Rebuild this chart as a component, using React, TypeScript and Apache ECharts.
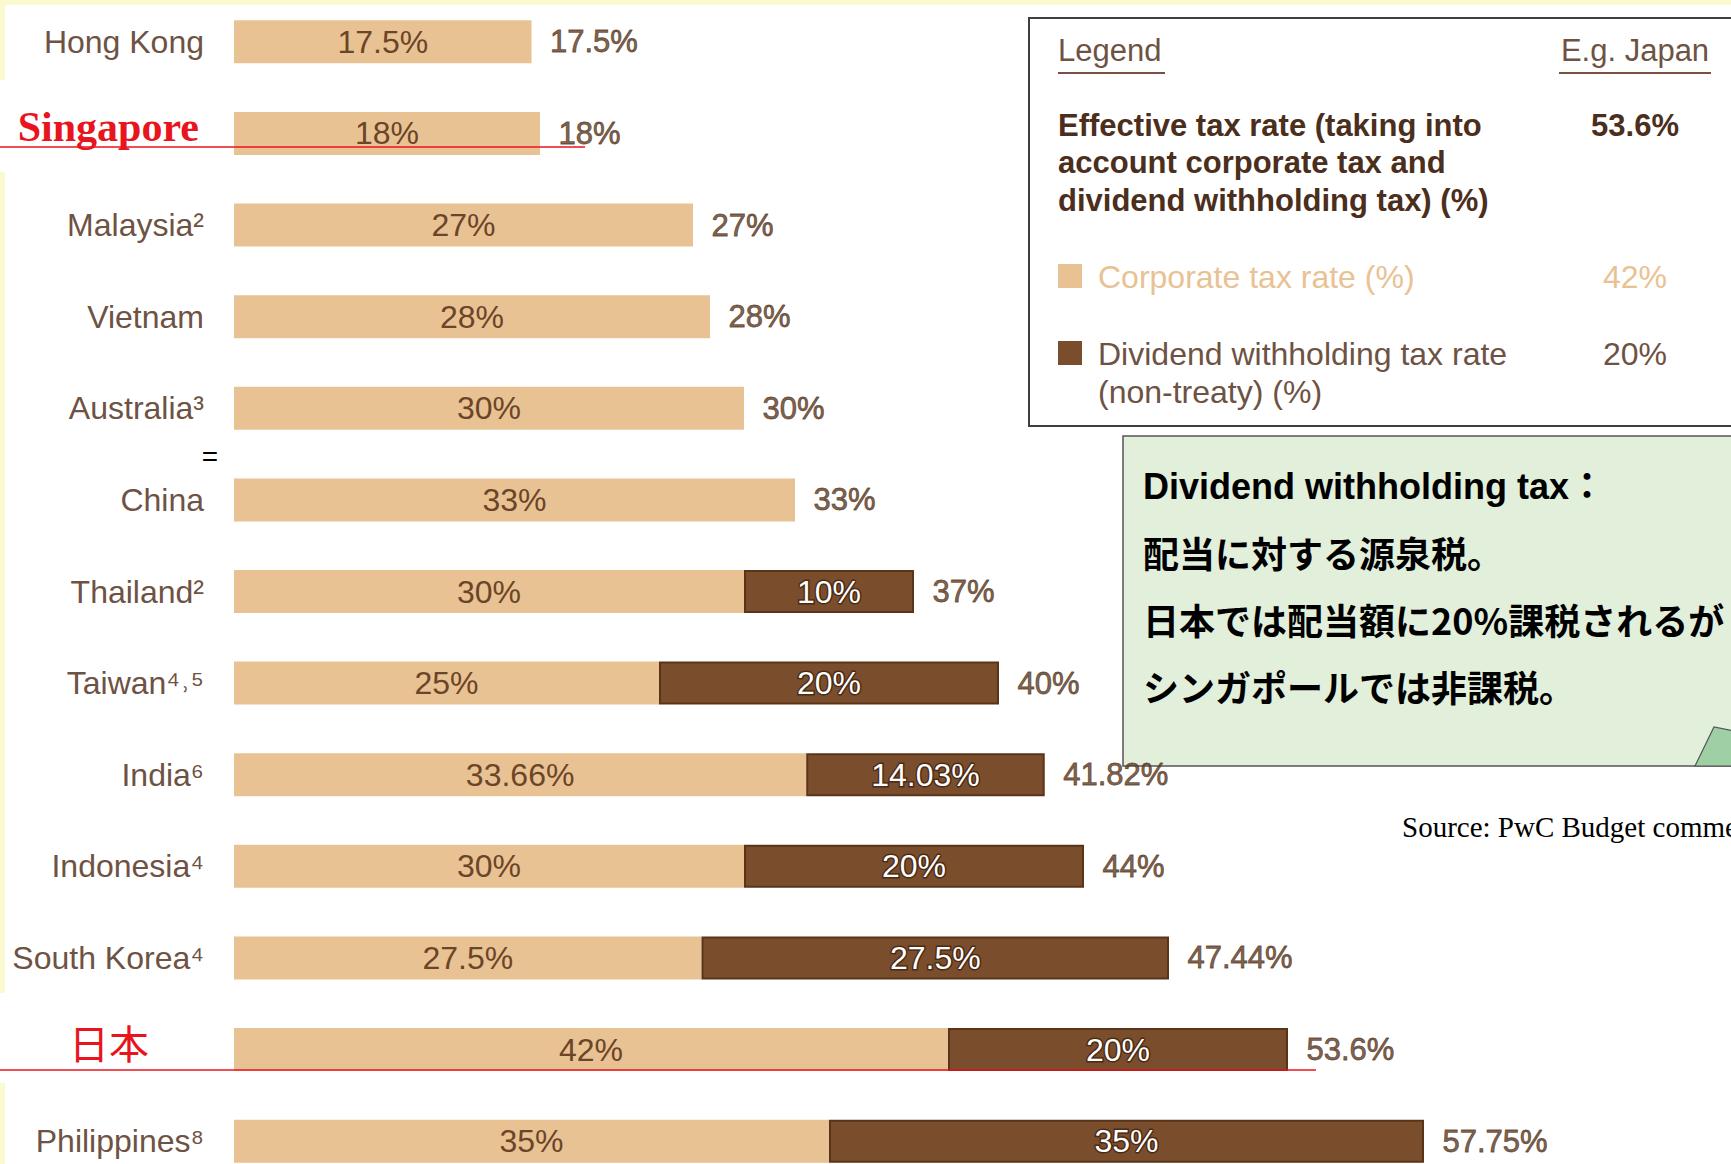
import React, { useEffect, useRef } from "react";
import * as echarts from "echarts";

// ---- data ----
const categories = [
  "Hong Kong",
  "Singapore",
  "Malaysia²",
  "Vietnam",
  "Australia³",
  "China",
  "Thailand²",
  "Taiwan⁴˒⁵",
  "India⁶",
  "Indonesia⁴",
  "South Korea⁴",
  "日本",
  "Philippines⁸",
];
const corporateRate = [17.5, 18, 27, 28, 30, 33, 30, 25, 33.66, 30, 27.5, 42, 35];
const dividendRate = [0, 0, 0, 0, 0, 0, 10, 20, 14.03, 20, 27.5, 20, 35];
const effectiveRate = [17.5, 18, 27, 28, 30, 33, 37, 40, 41.82, 44, 47.44, 53.6, 57.75];

const legendRows = ["Effective tax rate (taking into", "account corporate tax and", "dividend withholding tax) (%)"];
const japanExample = { effective: 53.6, corporate: 42, dividend: 20 };
const calloutLines = [
  "Dividend withholding tax：",
  "配当に対する源泉税。",
  "日本では配当額に20%課税されるが",
  "シンガポールでは非課税。",
];
const sourceText = "Source: PwC Budget commentaries";

// ---- styles ----
const TAN = "#E9C294";
const BROWN = "#7A4E2C";
const SANS = "'Liberation Sans', Arial, sans-serif";
const CJK = "'Noto Sans CJK JP', 'Liberation Sans', sans-serif";
const LABEL_GREY = "#6E5243";

export default function App() {
  const ref = useRef<HTMLDivElement>(null);

  useEffect(() => {
    if (!ref.current) return;
    const chart = echarts.init(ref.current, undefined, { renderer: "svg" });

    const totals = corporateRate.map((c, i) => c + dividendRate[i]);

    const txt = (text: string, x: number, y: number, o: any = {}) => ({
      type: "text",
      z: o.z ?? 20,
      style: {
        text,
        x,
        y,
        fill: o.fill ?? LABEL_GREY,
        fontSize: o.fontSize ?? 32,
        fontFamily: o.fontFamily ?? SANS,
        fontWeight: o.fontWeight ?? "normal",
        align: o.align ?? "left",
        verticalAlign: "middle",
      },
    });

    const option: any = {
      animation: false,
      backgroundColor: "#FBF9CF",
      grid: {
        left: 234,
        top: -4,
        width: 1360,
        height: 1191,
        containLabel: false,
        outerBoundsMode: "none",
      },
      xAxis: { type: "value", min: 0, max: 80, show: false },
      yAxis: {
        type: "category",
        inverse: true,
        data: categories,
        axisLine: { show: false },
        axisTick: { show: false },
        splitLine: { show: false },
        axisLabel: {
          margin: 30,
          formatter: (v: string) => {
            if (v === "Singapore") return "{sg|" + v + "}";
            if (v === "日本") return "{jp|" + v + "}";
            return "{n|" + v + "}";
          },
          rich: {
            n: { fontSize: 32, fontFamily: SANS, color: LABEL_GREY },
            sg: {
              fontSize: 42,
              fontWeight: "bold",
              fontFamily: "'Liberation Serif', 'Times New Roman', serif",
              color: "#E8141E",
              padding: [0, 5, 12, 0],
            },
            jp: {
              fontSize: 40,
              fontFamily: CJK,
              color: "#E8141E",
              padding: [0, 55, 16, 0],
            },
          },
        },
      },
      series: [
        {
          type: "bar",
          name: "Corporate tax rate (%)",
          stack: "tax",
          barWidth: 43,
          data: corporateRate,
          itemStyle: { color: TAN },
          z: 3,
          label: {
            show: true,
            position: "inside",
            formatter: (p: any) => p.value + "%",
            color: "#6B4528",
            fontSize: 32,
            fontFamily: SANS,
          },
        },
        {
          type: "bar",
          name: "Dividend withholding tax rate (non-treaty) (%)",
          stack: "tax",
          barWidth: 43,
          data: dividendRate.map((v) => (v > 0 ? v : null)),
          itemStyle: { color: BROWN, borderColor: "#5A3418", borderWidth: 2 },
          z: 3,
          label: {
            show: true,
            position: "inside",
            formatter: (p: any) => (p.value > 0 ? p.value + "%" : ""),
            color: "#FFFFFF",
            textBorderColor: "#4A2A14",
            textBorderWidth: 3,
            fontSize: 32,
            fontFamily: SANS,
          },
        },
        {
          type: "scatter",
          name: "Effective tax rate",
          data: totals.map((t, i) => [t, i]),
          symbolSize: 1,
          itemStyle: { color: "rgba(0,0,0,0)" },
          z: 10,
          label: {
            show: true,
            position: "right",
            distance: 18,
            formatter: (p: any) => effectiveRate[p.dataIndex] + "%",
            color: "#5A3A24",
            textBorderColor: "#5A3A24",
            textBorderWidth: 0.8,
            fontSize: 31,
            fontFamily: SANS,
          },
        },
      ],
      graphic: [
        // white slide area over pale yellow
        { type: "rect", z: -10, shape: { x: 5, y: 5, width: 1726, height: 1159 }, style: { fill: "#FFFFFF" } },
        { type: "rect", z: -9, shape: { x: 0, y: 80, width: 6, height: 92 }, style: { fill: "#FFFFFF" } },
        { type: "rect", z: -9, shape: { x: 0, y: 993, width: 6, height: 90 }, style: { fill: "#FFFFFF" } },
        // red underlines
        { type: "line", z: 100, shape: { x1: 0, y1: 147, x2: 585, y2: 147 }, style: { stroke: "#E8141E", lineWidth: 1.5 } },
        { type: "line", z: 100, shape: { x1: 0, y1: 1070, x2: 1316, y2: 1070 }, style: { stroke: "#E8141E", lineWidth: 1.5 } },
        // "=" mark between Australia and China
        txt("=", 210, 456, { fill: "#000000", fontSize: 28, align: "center" }),
        // legend box
        {
          type: "rect",
          z: 1,
          shape: { x: 1029, y: 18, width: 720, height: 408 },
          style: { fill: "#FFFFFF", stroke: "#3F3F3F", lineWidth: 2 },
        },
        txt("Legend", 1058, 50, { fontSize: 31 }),
        { type: "line", z: 20, shape: { x1: 1058, y1: 73, x2: 1165, y2: 73 }, style: { stroke: "#7A5040", lineWidth: 2 } },
        txt("E.g. Japan", 1635, 50, { fontSize: 31, align: "center" }),
        { type: "line", z: 20, shape: { x1: 1559, y1: 73, x2: 1711, y2: 73 }, style: { stroke: "#7A5040", lineWidth: 2 } },
        ...legendRows.map((r, i) =>
          txt(r, 1058, 125 + i * 37.5, { fontSize: 31, fontWeight: "bold", fill: "#4B2E1C" })
        ),
        txt(japanExample.effective + "%", 1635, 125, { fontSize: 31, fontWeight: "bold", fill: "#4B2E1C", align: "center" }),
        { type: "rect", z: 20, shape: { x: 1058, y: 264, width: 24, height: 24 }, style: { fill: TAN } },
        txt("Corporate tax rate (%)", 1098, 277, { fill: TAN }),
        txt(japanExample.corporate + "%", 1635, 277, { fill: TAN, align: "center" }),
        { type: "rect", z: 20, shape: { x: 1058, y: 341, width: 24, height: 24 }, style: { fill: BROWN } },
        txt("Dividend withholding tax rate", 1098, 354),
        txt("(non-treaty) (%)", 1098, 392),
        txt(japanExample.dividend + "%", 1635, 354, { align: "center" }),
        // callout
        {
          type: "rect",
          z: 1,
          shape: { x: 1123, y: 436, width: 640, height: 330 },
          style: { fill: "#E1EFDB", stroke: "#555555", lineWidth: 1.5 },
        },
        {
          type: "polygon",
          z: 2,
          shape: { points: [[1695, 766], [1714, 727], [1745, 733], [1745, 766]] },
          style: { fill: "#9FCFA4", stroke: "#555555", lineWidth: 1.2 },
        },
        txt(calloutLines[0], 1143, 486, { fill: "#000000", fontSize: 36, fontWeight: "bold", fontFamily: "'Liberation Sans', 'Noto Sans CJK JP', sans-serif" }),
        txt(calloutLines[1], 1143, 552, { fill: "#000000", fontSize: 36, fontWeight: "bold", fontFamily: CJK }),
        txt(calloutLines[2], 1143, 619, { fill: "#000000", fontSize: 36, fontWeight: "bold", fontFamily: CJK }),
        txt(calloutLines[3], 1143, 686, { fill: "#000000", fontSize: 36, fontWeight: "bold", fontFamily: CJK }),
        // source
        txt(sourceText, 1402, 827, { fill: "#000000", fontSize: 29, fontFamily: "'Liberation Serif', 'Times New Roman', serif" }),
      ],
    };

    chart.setOption(option);
    return () => chart.dispose();
  }, []);

  return (
    <div
      ref={ref}
      style={{ position: "fixed", left: 0, top: 0, width: 1731, height: 1164, overflow: "hidden" }}
    />
  );
}
